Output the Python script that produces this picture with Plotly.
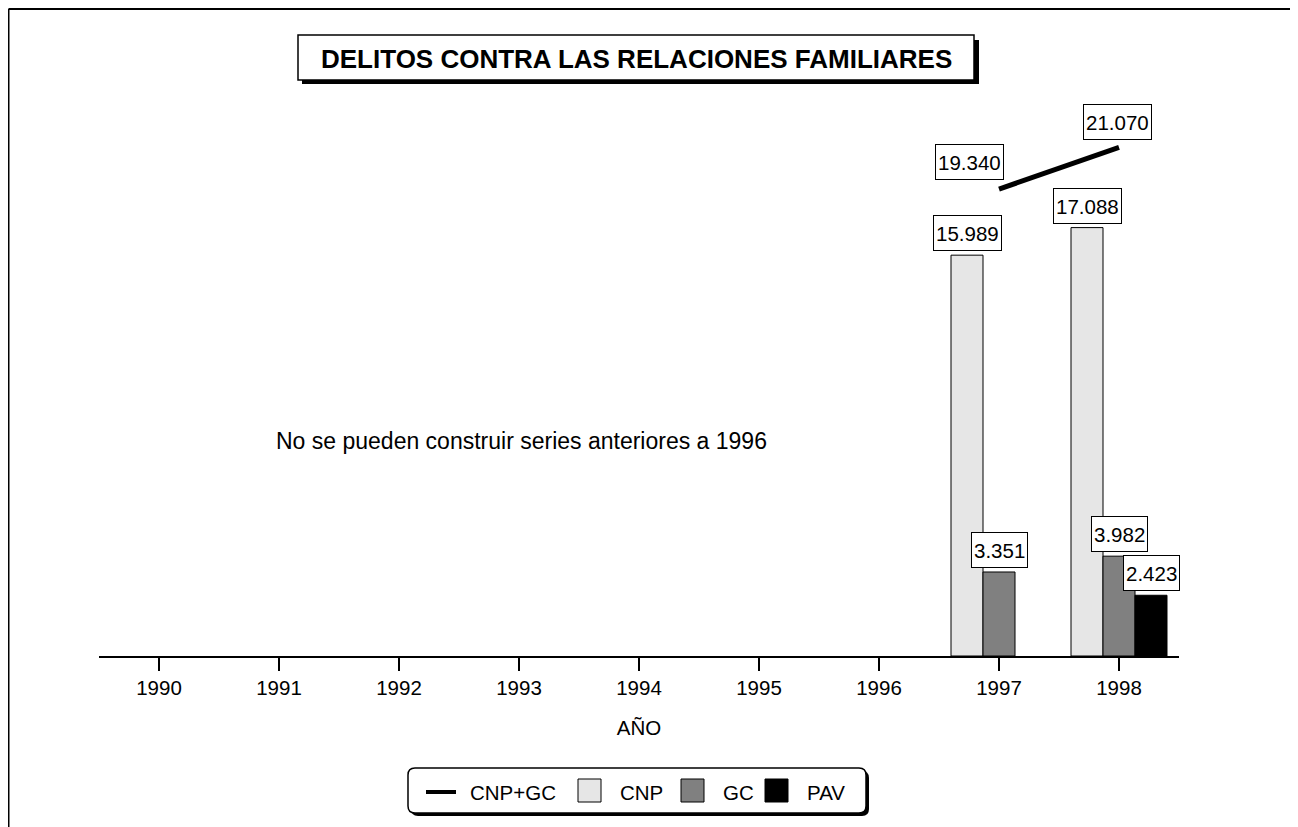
"""Delitos contra las relaciones familiares - bar + line chart."""

import plotly.graph_objects as go

# data
years = [1990, 1991, 1992, 1993, 1994, 1995, 1996, 1997, 1998]
tick_labels = [str(y) for y in years]

bar_years = [1997, 1998]
cnp = [15989, 17088]
gc = [3351, 3982]
pav = [None, 2423]
cnp_gc = [19340, 21070]

title_text = "DELITOS CONTRA LAS RELACIONES FAMILIARES"
note_text = "No se pueden construir series anteriores a 1996"
x_title = "AÑO"

FONT = "Liberation Sans, Arial, Helvetica, sans-serif"

# page geometry (figure pixels; the page body adds an 8px margin)
OFF = 8
W, H = 1290, 819
ML, MT = 91, 98
PW, PH = 1080, 550
MR = W - ML - PW
MB = H - MT - PH


def px_x(px):
    # px is a screen position in the 1298x827 window
    return (px - OFF - ML) / PW


def px_y(py):
    return (MT + PH - (py - OFF)) / PH


def fmt(v):
    return f"{v:,}".replace(",", ".")


def rounded_path(x0, y0, x1, y1, r):
    pts = [
        ("M", x0 + r, y0), ("L", x1 - r, y0), ("Q", x1, y0, x1, y0 + r),
        ("L", x1, y1 - r), ("Q", x1, y1, x1 - r, y1), ("L", x0 + r, y1),
        ("Q", x0, y1, x0, y1 - r), ("L", x0, y0 + r), ("Q", x0, y0, x0 + r, y0),
    ]
    out = []
    for p in pts:
        cmd, coords = p[0], p[1:]
        xy = []
        for i in range(0, len(coords), 2):
            xy.append(f"{px_x(coords[i]):.5f},{px_y(coords[i + 1]):.5f}")
        out.append(cmd + " ".join(xy))
    return " ".join(out) + " Z"


fig = go.Figure()

fig.add_trace(go.Bar(x=bar_years, y=cnp, name="CNP",
                     marker=dict(color="#e6e6e6", line=dict(color="black", width=1))))
fig.add_trace(go.Bar(x=bar_years, y=gc, name="GC",
                     marker=dict(color="#808080", line=dict(color="black", width=1))))
fig.add_trace(go.Bar(x=bar_years, y=pav, name="PAV",
                     marker=dict(color="black", line=dict(color="black", width=1))))
fig.add_trace(go.Scatter(x=bar_years, y=cnp_gc, name="CNP+GC", mode="lines",
                         line=dict(color="black", width=5), yaxis="y2"))

annotations = []
box = dict(showarrow=False, bgcolor="white", bordercolor="black", borderwidth=1,
           borderpad=2, height=30, font=dict(family=FONT, size=20.5, color="black"))

# value labels on bars
for series, shift in [(cnp, -32), (gc, 0), (pav, 32)]:
    for x, v in zip(bar_years, series):
        if v is None:
            continue
        annotations.append(dict(x=x, y=v, xref="x", yref="y", xshift=shift, yshift=4,
                                yanchor="bottom", text=fmt(v), **box))

# value labels on the line
for (x, v), (xs, ys) in zip(zip(bar_years, cnp_gc), [(-30, 9), (-2, 7)]):
    annotations.append(dict(x=x, y=v, xref="x", yref="y2", xshift=xs, yshift=ys,
                            yanchor="bottom", text=fmt(v), **box))

# title
annotations.append(dict(x=px_x(636), y=px_y(59), xref="paper", yref="paper",
                        xanchor="center", yanchor="middle",
                        text=f"<b>{title_text}</b>", showarrow=False,
                        font=dict(family=FONT, size=26, color="black")))
# note
annotations.append(dict(x=px_x(521), y=px_y(441), xref="paper", yref="paper",
                        xanchor="center", yanchor="middle",
                        text=note_text, showarrow=False,
                        font=dict(family=FONT, size=23, color="black")))

shapes = []
# outer frame
shapes.append(dict(type="line", xref="paper", yref="paper", x0=px_x(8.5), x1=px_x(8.5),
                   y0=px_y(9), y1=px_y(840), line=dict(color="black", width=2)))
shapes.append(dict(type="line", xref="paper", yref="paper", x0=px_x(8.5), x1=px_x(1297),
                   y0=px_y(9), y1=px_y(9), line=dict(color="black", width=2)))
shapes.append(dict(type="line", xref="paper", yref="paper", x0=px_x(1296.5),
                   x1=px_x(1296.5), y0=px_y(9), y1=px_y(840),
                   line=dict(color="#999999", width=1.5)))

# title box with shadow
shapes.append(dict(type="rect", xref="paper", yref="paper", x0=px_x(302), x1=px_x(979),
                   y0=px_y(40), y1=px_y(84), fillcolor="black", line=dict(width=0)))
shapes.append(dict(type="rect", xref="paper", yref="paper", x0=px_x(298), x1=px_x(974),
                   y0=px_y(35), y1=px_y(80), fillcolor="white",
                   line=dict(color="black", width=1.5)))

# legend box with shadow
shapes.append(dict(type="path", xref="paper", yref="paper",
                   path=rounded_path(411, 771, 869, 816, 7), fillcolor="black",
                   line=dict(width=0)))
shapes.append(dict(type="path", xref="paper", yref="paper",
                   path=rounded_path(408, 768, 866, 813, 7), fillcolor="white",
                   line=dict(color="black", width=1.5)))

# legend entries
leg_font = dict(family=FONT, size=20.5, color="black")
shapes.append(dict(type="line", xref="paper", yref="paper", x0=px_x(426), x1=px_x(456),
                   y0=px_y(792), y1=px_y(792), line=dict(color="black", width=4)))
annotations.append(dict(x=px_x(468), y=px_y(792), xref="paper", yref="paper",
                        xanchor="left", yanchor="middle", text="CNP+GC",
                        showarrow=False, font=leg_font))
for x0, color, label, tx in [(578, "#e6e6e6", "CNP", 618), (681, "#808080", "GC", 721),
                             (765, "black", "PAV", 805)]:
    shapes.append(dict(type="rect", xref="paper", yref="paper", x0=px_x(x0),
                       x1=px_x(x0 + 23), y0=px_y(779), y1=px_y(802), fillcolor=color,
                       line=dict(color="black", width=1)))
    annotations.append(dict(x=px_x(tx), y=px_y(792), xref="paper", yref="paper",
                            xanchor="left", yanchor="middle", text=label,
                            showarrow=False, font=leg_font))

fig.update_layout(
    width=W, height=H,
    margin=dict(l=ML, r=MR, t=MT, b=MB),
    paper_bgcolor="white", plot_bgcolor="white",
    font=dict(family=FONT, size=20, color="black"),
    barmode="group", bargap=0.2, bargroupgap=0,
    showlegend=False,
    xaxis=dict(range=[1989.5, 1998.5], tickmode="array", tickvals=years,
               ticktext=tick_labels, ticks="outside", ticklen=13, tickwidth=1.5,
               tickcolor="black", showline=True, linecolor="black", linewidth=1.5,
               showgrid=False, zeroline=False, tickfont=dict(size=20.5),
               title=dict(text=x_title, font=dict(size=20.5), standoff=22)),
    yaxis=dict(range=[0, PH / 0.02507], visible=False, showgrid=False, zeroline=False),
    yaxis2=dict(range=[0, PH / 0.02414], overlaying="y", visible=False,
                showgrid=False, zeroline=False),
    annotations=annotations,
    shapes=shapes,
)

fig.write_html("out.html")
